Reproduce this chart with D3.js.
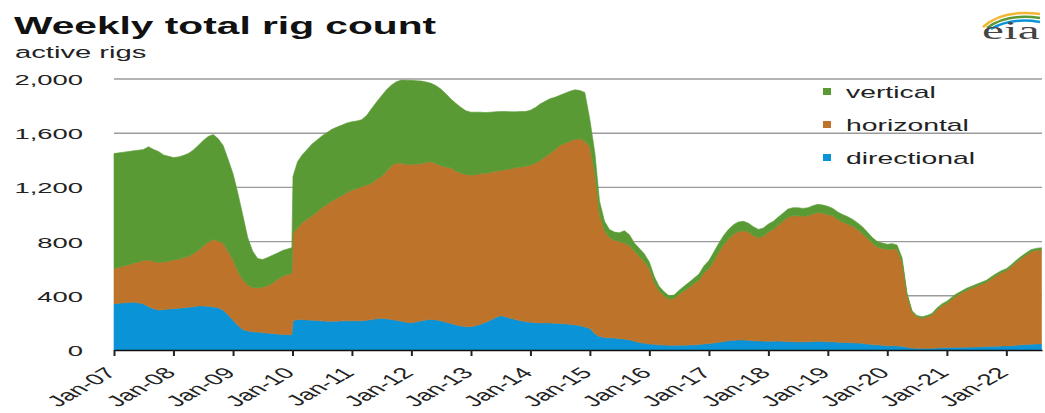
<!DOCTYPE html>
<html><head><meta charset="utf-8">
<script src="https://cdn.jsdelivr.net/npm/d3@7"></script>
<style>
body{margin:0;background:#fff}
svg{display:block}
text{font-family:"Liberation Sans",Arial,sans-serif}
</style>
</head><body>
<svg id="chart" width="1045" height="413"></svg>
<script>
// ---- data (weekly rig count at roughly monthly steps) ----
const dates = [
"2007-01-01","2007-02-01","2007-03-01","2007-04-01","2007-05-01","2007-06-01","2007-07-01","2007-08-01","2007-09-01","2007-10-01","2007-11-01","2007-12-01",
"2008-01-01","2008-02-01","2008-03-01","2008-04-01","2008-05-01","2008-06-01","2008-07-01","2008-08-01","2008-09-01","2008-10-01","2008-11-01","2008-12-01",
"2009-01-01","2009-02-01","2009-03-01","2009-04-01","2009-05-01","2009-06-01","2009-07-01","2009-08-01","2009-09-01","2009-10-01","2009-11-01","2009-12-28",
"2010-01-04","2010-02-01","2010-03-01","2010-04-01","2010-05-01","2010-06-01","2010-07-01","2010-08-01","2010-09-01","2010-10-01","2010-11-01","2010-12-01",
"2011-01-01","2011-02-01","2011-03-01","2011-04-01","2011-05-01","2011-06-01","2011-07-01","2011-08-01","2011-09-01","2011-10-01","2011-11-01","2011-12-01",
"2012-01-01","2012-02-01","2012-03-01","2012-04-01","2012-05-01","2012-06-01","2012-07-01","2012-08-01","2012-09-01","2012-10-01","2012-11-01","2012-12-01",
"2013-01-01","2013-02-01","2013-03-01","2013-04-01","2013-05-01","2013-06-01","2013-07-01","2013-08-01","2013-09-01","2013-10-01","2013-11-01","2013-12-01",
"2014-01-01","2014-02-01","2014-03-01","2014-04-01","2014-05-01","2014-06-01","2014-07-01","2014-08-01","2014-09-01","2014-10-01","2014-11-01","2014-12-01",
"2015-01-01","2015-02-01","2015-03-01","2015-04-01","2015-05-01","2015-06-01","2015-07-01","2015-08-01","2015-09-01","2015-10-01","2015-11-01","2015-12-01",
"2016-01-01","2016-02-01","2016-03-01","2016-04-01","2016-05-01","2016-06-01","2016-07-01","2016-08-01","2016-09-01","2016-10-01","2016-11-01","2016-12-01",
"2017-01-01","2017-02-01","2017-03-01","2017-04-01","2017-05-01","2017-06-01","2017-07-01","2017-08-01","2017-09-01","2017-10-01","2017-11-01","2017-12-01",
"2018-01-01","2018-02-01","2018-03-01","2018-04-01","2018-05-01","2018-06-01","2018-07-01","2018-08-01","2018-09-01","2018-10-01","2018-11-01","2018-12-01",
"2019-01-01","2019-02-01","2019-03-01","2019-04-01","2019-05-01","2019-06-01","2019-07-01","2019-08-01","2019-09-01","2019-10-01","2019-11-01","2019-12-01",
"2020-01-01","2020-02-01","2020-03-01","2020-04-01","2020-05-01","2020-06-01","2020-07-01","2020-08-01","2020-09-01","2020-10-01","2020-11-01","2020-12-01",
"2021-01-01","2021-02-01","2021-03-01","2021-04-01","2021-05-01","2021-06-01","2021-07-01","2021-08-01","2021-09-01","2021-10-01","2021-11-01","2021-12-01",
"2022-01-01","2022-02-01","2022-03-01","2022-04-01","2022-05-01","2022-06-01","2022-07-01","2022-08-05"
];
const vertical = [
850,845,840,835,830,825,820,835,825,820,790,775,
755,755,755,760,765,775,780,780,775,755,720,680,
635,575,480,350,268,217,205,207,205,195,190,187,
420,490,500,515,530,530,530,530,530,525,520,515,
505,498,495,512,550,570,595,600,595,600,614,620,
620,616,610,595,578,575,565,540,507,500,485,470,
465,460,455,447,445,438,435,430,420,413,410,405,
405,410,415,410,405,385,370,370,370,365,355,360,
200,150,100,70,60,60,65,90,80,60,60,60,
50,40,35,30,25,25,30,35,40,40,45,50,
60,65,65,70,70,70,70,70,65,65,60,60,
60,60,60,60,60,60,60,57,60,60,60,60,
60,55,55,55,55,50,50,50,45,40,40,40,
40,40,35,30,15,10,10,10,10,12,13,13,
15,15,15,15,15,15,15,15,15,15,15,15,
15,15,15,15,15,15,15,15
];
const horizontal = [
260,265,272,280,288,302,320,345,350,350,352,353,
360,362,368,375,390,410,440,473,497,493,495,470,
445,395,368,340,327,326,335,350,374,402,430,456,
645,675,715,743,770,802,835,862,888,907,925,945,
965,977,990,998,1005,1030,1046,1090,1135,1160,1166,1165,
1170,1164,1160,1161,1164,1153,1145,1145,1148,1135,1127,1123,
1118,1115,1110,1100,1090,1080,1073,1085,1103,1120,1135,1145,
1160,1178,1200,1225,1250,1282,1315,1332,1350,1370,1380,1370,
1340,1180,900,788,740,722,715,710,695,665,635,600,
555,458,397,364,340,345,375,400,423,452,475,525,
552,608,662,713,752,783,801,806,798,777,764,774,
805,825,854,886,918,930,930,928,930,943,951,948,
940,930,907,890,875,862,838,810,780,750,722,715,
708,713,710,622,385,265,232,223,233,245,282,310,
327,357,380,400,420,433,448,461,475,499,522,540,
555,583,610,637,660,683,690,695
];
const directional = [
340,345,348,350,352,348,340,320,305,295,298,302,
305,308,312,315,320,325,325,322,318,312,295,260,
220,180,152,140,135,132,128,125,121,118,115,112,
215,225,225,222,220,218,215,213,212,213,215,215,
215,215,215,220,225,230,234,230,225,220,212,205,
200,208,215,222,226,222,215,205,195,185,178,172,
172,180,190,205,220,240,252,245,235,225,215,210,
205,202,200,200,200,198,195,193,190,185,180,170,
160,120,100,92,90,88,85,80,75,65,55,50,
45,42,38,36,35,35,35,35,37,38,40,45,
48,52,58,62,68,72,74,74,72,68,66,66,
65,65,66,64,62,60,60,60,60,62,64,62,
60,60,58,55,55,53,52,50,45,40,38,35,
32,32,30,28,20,15,13,12,12,13,15,17,
18,18,20,20,20,22,22,24,25,26,28,30,
30,32,35,38,40,42,45,45
];
const seriesKeys = ["directional","horizontal","vertical"];
const legendKeys = ["vertical","horizontal","directional"];
const yTicks = [0,400,800,1200,1600,2000];
const xTickDates = ["2007-01-01","2008-01-01","2009-01-01","2010-01-01","2011-01-01","2012-01-01","2013-01-01","2014-01-01","2015-01-01","2016-01-01","2017-01-01","2018-01-01","2019-01-01","2020-01-01","2021-01-01","2022-01-01"];
const xTickLabels = ["Jan-07","Jan-08","Jan-09","Jan-10","Jan-11","Jan-12","Jan-13","Jan-14","Jan-15","Jan-16","Jan-17","Jan-18","Jan-19","Jan-20","Jan-21","Jan-22"];
const titleText = "Weekly total rig count";
const unitText = "active rigs";

// ---- drawing ----
const SX = 1.77; // horizontal stretch of the reference's lettering
const colors = {vertical:"#5a9a35", horizontal:"#bd732a", directional:"#0a93d6"};
const svg = d3.select("#chart");
const parse = d3.timeParse("%Y-%m-%d");
const X0 = 114, X1 = 1042, Y0 = 350, Y1 = 79;
const x = d3.scaleTime().domain([parse("2007-01-01"), parse("2022-08-08")]).range([X0, X1]);
const y = d3.scaleLinear().domain([0, 2000]).range([Y0, Y1]);

const rows = dates.map((d, i) => ({date: parse(d), vertical: vertical[i], horizontal: horizontal[i], directional: directional[i]}));
const stacked = d3.stack().keys(seriesKeys)(rows);

// gridlines
svg.append("g").selectAll("line").data(yTicks.filter(v => v > 0)).join("line")
  .attr("x1", X0).attr("x2", X1)
  .attr("y1", d => y(d)).attr("y2", d => y(d))
  .attr("stroke", "#9b9b9b").attr("stroke-width", 1.4);

// areas
const area = d3.area().x(d => x(d.data.date)).y0(d => y(d[0])).y1(d => y(d[1]));
svg.append("g").selectAll("path").data(stacked).join("path")
  .attr("d", area)
  .attr("fill", d => colors[d.key])
  .attr("stroke", d => colors[d.key]).attr("stroke-width", 0.6);

// x axis
const xAxis = d3.axisBottom(x)
  .tickValues(xTickDates.map(parse))
  .tickFormat((d, i) => xTickLabels[i])
  .tickSize(6).tickSizeOuter(0);
const gx = svg.append("g").attr("transform", `translate(0,${Y0})`).call(xAxis);
gx.select(".domain").attr("stroke", "#111").attr("stroke-width", 1.6);
gx.selectAll(".tick line").attr("stroke", "#222").attr("stroke-width", 2);
gx.selectAll(".tick text")
  .attr("y", 0).attr("dy", 0).attr("x", 0)
  .attr("text-anchor", "end")
  .attr("transform", `translate(3,24) scale(${SX},1) rotate(-45)`)
  .attr("font-size", 15.5).attr("fill", "#222")
  .style("font-family", '"Liberation Sans",Arial,sans-serif');

// y axis labels
const yAxis = d3.axisLeft(y).tickValues(yTicks).tickFormat(d3.format(",")).tickSize(0);
const gy = svg.append("g").attr("transform", `translate(${X0},0)`).call(yAxis);
gy.select(".domain").remove();
gy.selectAll(".tick text")
  .attr("x", -31 / SX).attr("dy", "0.36em")
  .attr("transform", `scale(${SX},1)`)
  .attr("font-size", 15.5).attr("fill", "#222")
  .style("font-family", '"Liberation Sans",Arial,sans-serif');

// title + unit
svg.append("text").attr("transform", `translate(14,34) scale(${SX},1)`)
  .attr("font-size", 23).attr("font-weight", "bold").attr("fill", "#111").text(titleText);
svg.append("text").attr("transform", `translate(15,58) scale(${SX},1)`)
  .attr("font-size", 16.5).attr("fill", "#222").text(unitText);

// legend
const leg = svg.append("g").selectAll("g").data(legendKeys).join("g")
  .attr("transform", (d, i) => `translate(823,${98 + i * 33})`);
leg.append("rect").attr("x", 0).attr("y", -10).attr("width", 8).attr("height", 7).attr("fill", d => colors[d]);
leg.append("text").attr("transform", `translate(23,0) scale(${SX},1)`)
  .attr("font-size", 16).attr("fill", "#222").text(d => d);

// eia logo
const logo = svg.append("g");
logo.append("path").attr("d", "M983,27 Q1003,9 1040,14").attr("fill", "none").attr("stroke", "#f2b632").attr("stroke-width", 2.5);
logo.append("path").attr("d", "M987,28 Q1007,13 1040,18").attr("fill", "none").attr("stroke", "#5a9a35").attr("stroke-width", 2.5);
logo.append("path").attr("d", "M991,29 Q1011,17 1040,22").attr("fill", "none").attr("stroke", "#0a93d6").attr("stroke-width", 2.5);
logo.append("text").attr("transform", "translate(982,39) scale(1.9,1)")
  .attr("font-size", 26).attr("fill", "#444").style("font-family", '"Liberation Serif","DejaVu Serif",serif').text("eia");
</script>
</body></html>
